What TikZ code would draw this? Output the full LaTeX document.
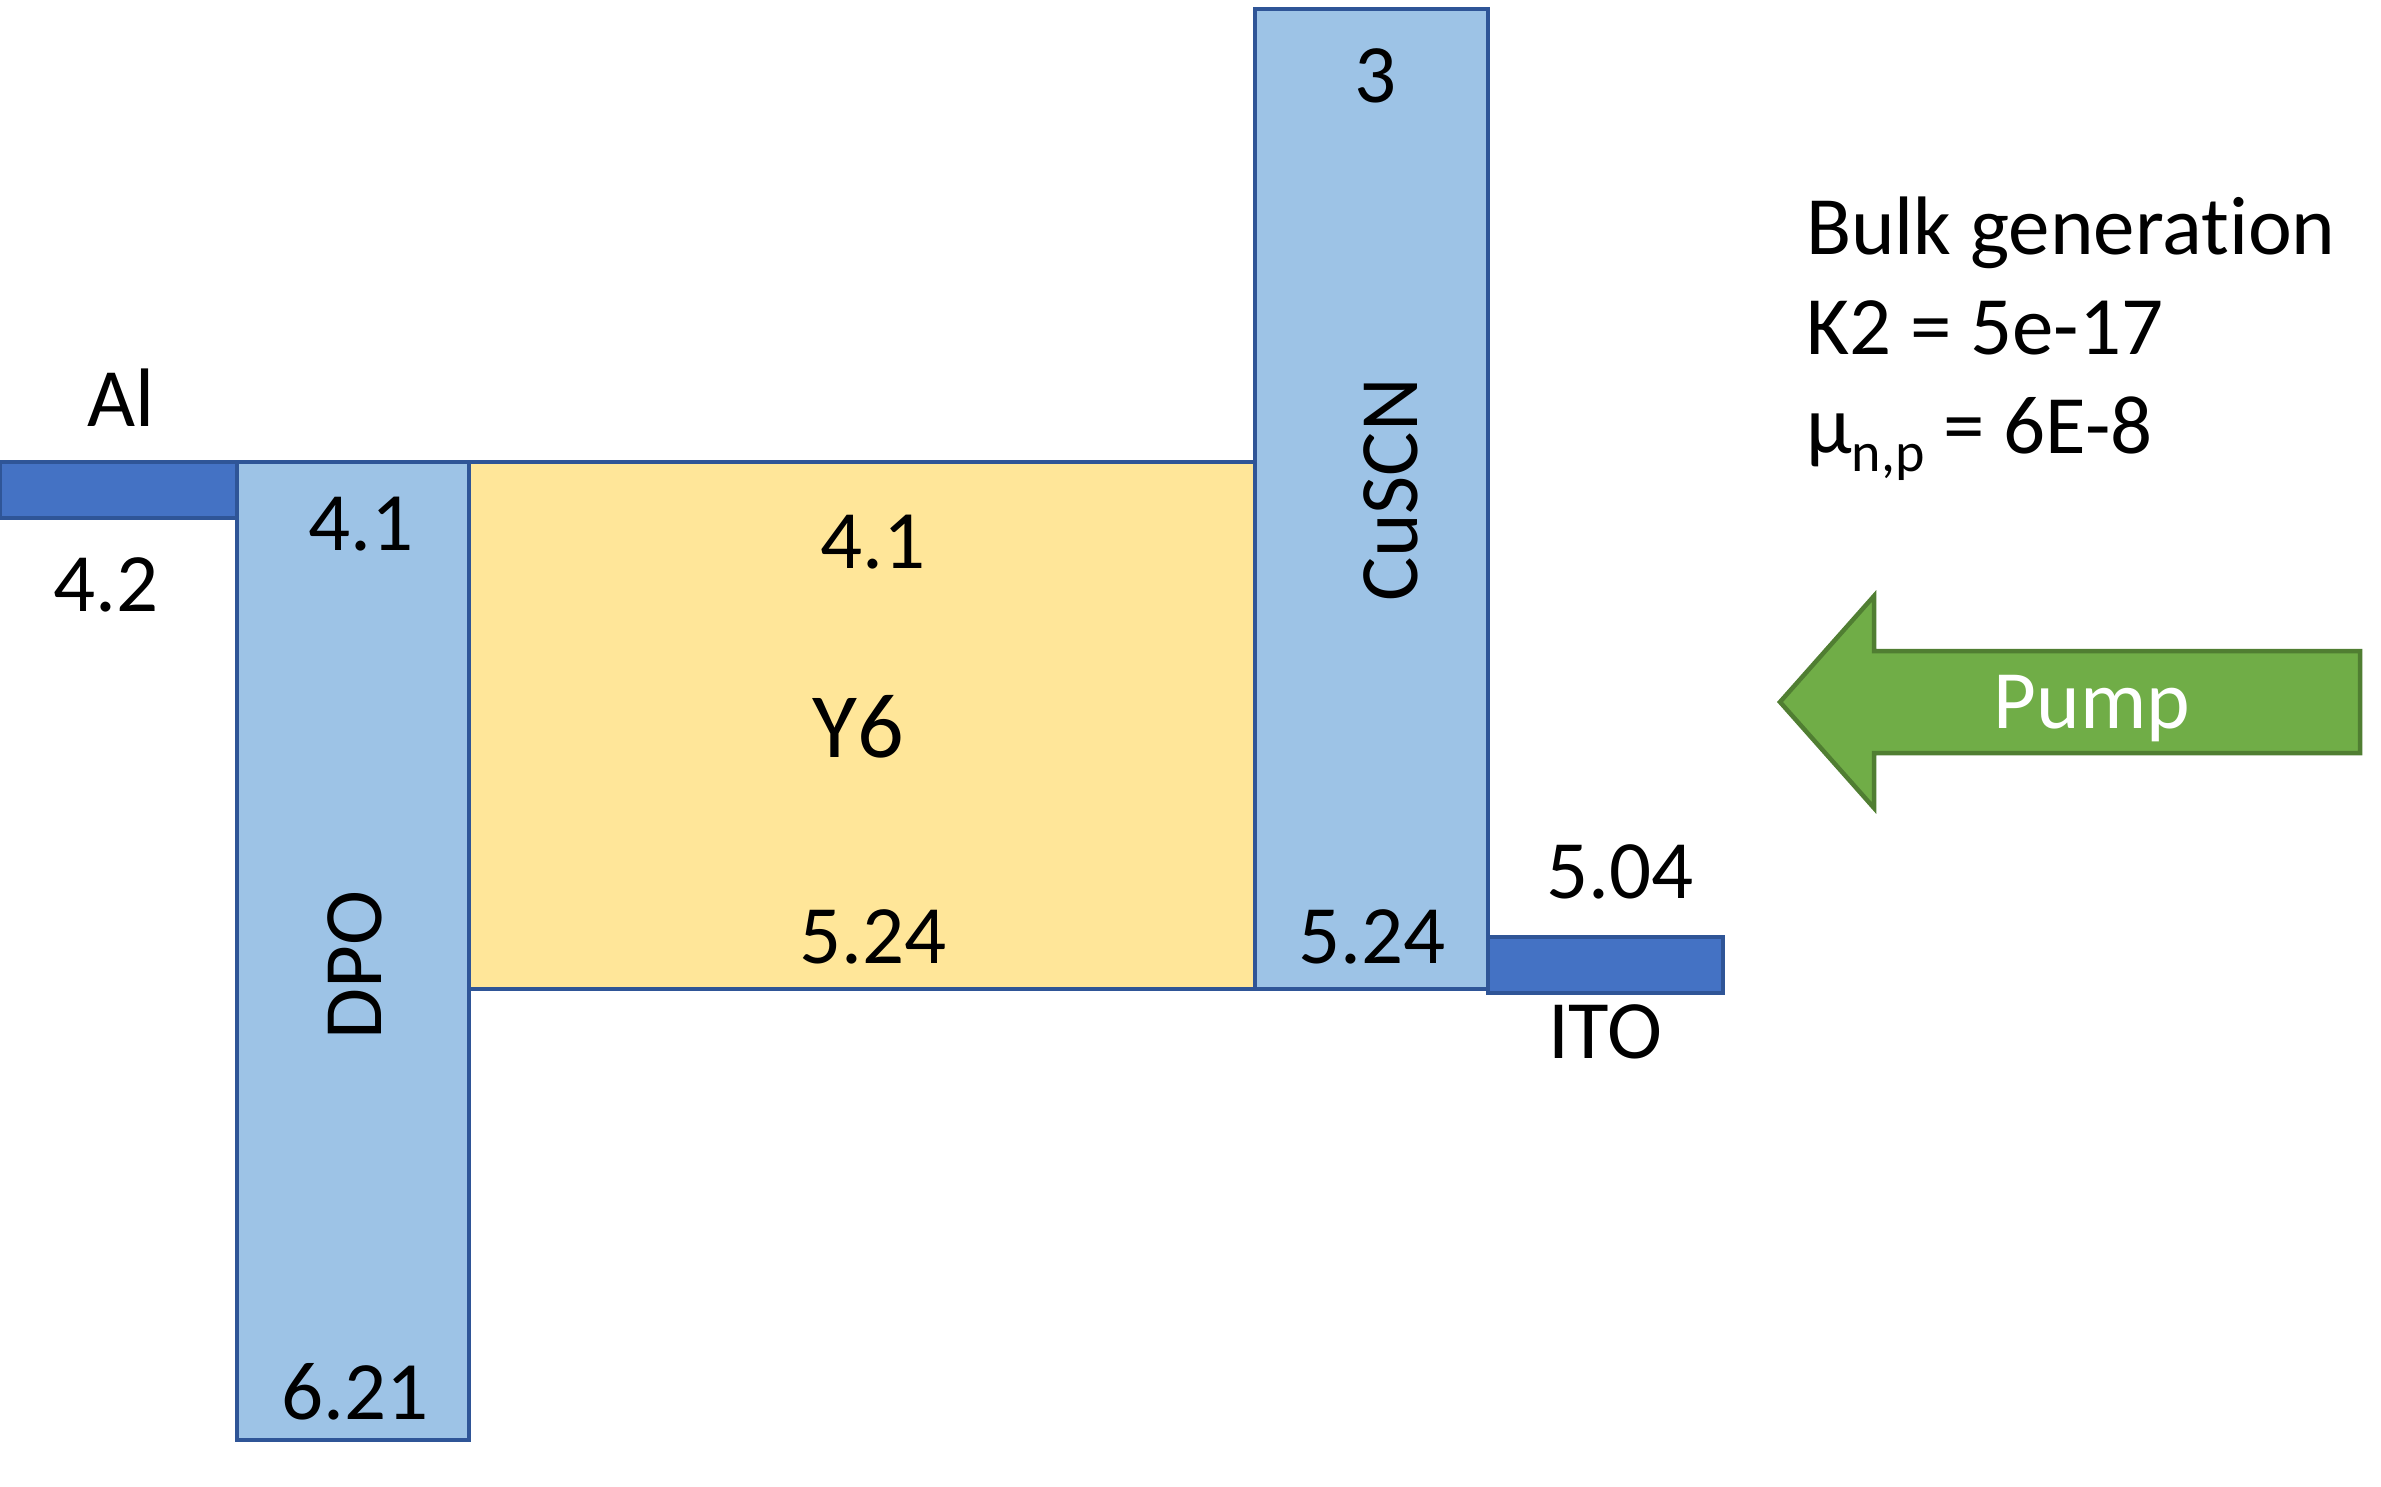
\documentclass[tikz,border=0pt]{standalone}
\usepackage{fontspec}
\setmainfont{Carlito}[Ligatures={NoCommon,NoContextual}]
\definecolor{lblue}{HTML}{9DC3E6}
\definecolor{dblue}{HTML}{2F5597}
\definecolor{mblue}{HTML}{4472C4}
\definecolor{yfill}{HTML}{FFE699}
\definecolor{gfill}{HTML}{70AD47}
\definecolor{gline}{HTML}{507E32}
\begin{document}
\begin{tikzpicture}[x=1pt,y=-1pt,
  layer/.style={draw=dblue,line width=4.5pt,inner sep=0pt,outer sep=0pt,anchor=north west},
  lbl/.style={font=\fontsize{83}{100}\selectfont,inner sep=0pt},
]
\useasboundingbox (0,0) rectangle (2381,1487);
% boxes
\node[layer,fill=yfill,minimum width=786pt,minimum height=527pt] (y6) at (469,462) {};
\node[layer,fill=lblue,minimum width=232pt,minimum height=978pt] (dpo) at (237,462) {};
\node[layer,fill=lblue,minimum width=233pt,minimum height=980pt] (cuscn) at (1255,9) {};
\node[layer,fill=mblue,minimum width=237pt,minimum height=56pt] (al) at (0,462) {};
\node[layer,fill=mblue,minimum width=235pt,minimum height=56pt] (ito) at (1488,937) {};
% labels
\node[lbl] (tal) at (121,398) {Al};
\node[lbl] (t42) at (106,585) {4.2};
\node[lbl] (tdpo41) at (361,524) {4.1};
\node[lbl] (ty641) at (873,542) {4.1};
\node[lbl,font=\fontsize{92}{110}\selectfont] (ty6) at (858,727) {Y6};
\node[lbl] (ty6524) at (873,937) {5.24};
\node[lbl] (tcu524) at (1372,937) {5.24};
\node[lbl] (tcu3) at (1376,76) {3};
\node[lbl,rotate=90] (tcuscn) at (1391,490) {CuSCN};
\node[lbl,rotate=90] (tdpo) at (355,965) {DPO};
\node[lbl] (t621) at (355,1392) {6.21};
\node[lbl] (t504) at (1620,872) {5.04};
\node[lbl] (tito) at (1605,1032) {ITO};
% parameters
\node[lbl,anchor=base west] (tbulk) at (1806,255) {Bulk generation};
\node[lbl,anchor=base west] (tk2) at (1806,354) {K2 = 5e-17};
\node[lbl,anchor=base west] (tmu) at (1806,453) {μ\raisebox{-0.22em}{\fontsize{56}{62}\selectfont n,p} = 6E-8};
% pump arrow
\draw[fill=gfill,draw=gline,line width=4.5pt,line join=miter]
  (1780,702) -- (1874,596) -- (1874,651) -- (2360,651) -- (2360,753) -- (1874,753) -- (1874,808) -- cycle;
\node[lbl,anchor=base,text=white] (tpump) at (2092,728) {Pump};
\end{tikzpicture}
\end{document}
